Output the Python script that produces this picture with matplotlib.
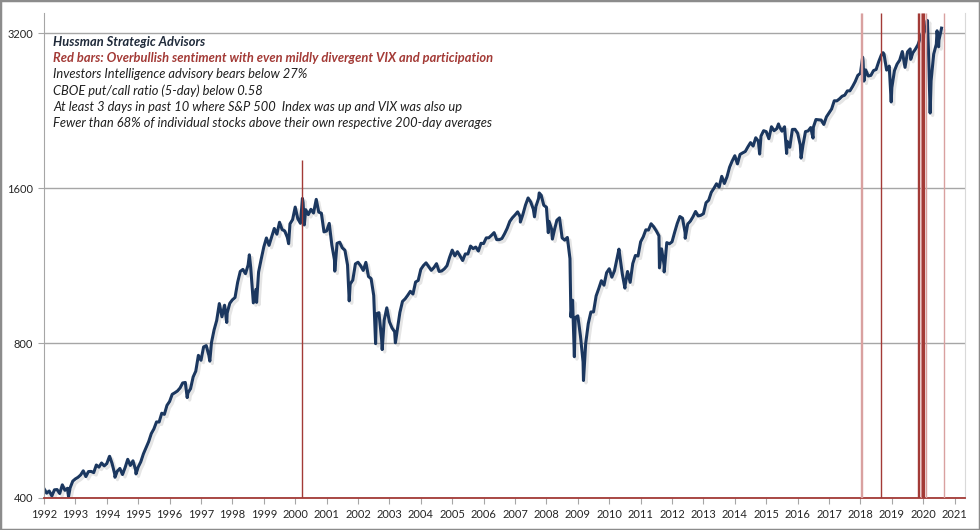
"""S&P 500 (log scale) with red bars marking overbullish sentiment syndromes."""

import matplotlib.pyplot as plt
import matplotlib.patheffects as pe
from matplotlib.patches import Rectangle
from matplotlib.ticker import NullLocator, FixedLocator, FixedFormatter
import numpy as np

# Month-end S&P 500 closes, Jan 1992 .. Jul 2020
closes = [
    408.8, 412.7, 403.7, 414.9, 415.4, 408.1, 424.2, 414.0, 417.8, 418.7, 431.4, 435.7,  # 1992
    438.8, 443.4, 451.7, 440.2, 450.2, 450.5, 448.1, 463.6, 459.2, 467.8, 461.8, 466.5,  # 1993
    481.6, 467.1, 445.8, 450.9, 456.5, 444.3, 458.3, 475.5, 462.7, 472.4, 453.7, 459.3,  # 1994
    470.4, 487.4, 500.7, 514.7, 533.4, 544.8, 562.1, 561.9, 584.4, 581.5, 605.4, 615.9,  # 1995
    636.0, 640.4, 645.5, 654.2, 669.1, 670.6, 639.9, 652.0, 687.3, 705.3, 757.0, 740.7,  # 1996
    786.2, 790.8, 757.1, 801.3, 848.3, 885.1, 954.3, 899.5, 947.3, 914.6, 955.4, 970.4,  # 1997
    980.3, 1049.3, 1101.8, 1111.8, 1090.8, 1133.8, 1120.7, 957.3, 1017.0, 1098.7, 1163.6, 1229.2,  # 1998
    1279.6, 1238.3, 1286.4, 1335.2, 1301.8, 1372.7, 1328.7, 1320.4, 1282.7, 1362.9, 1388.9, 1469.3,  # 1999
    1394.5, 1366.4, 1498.6, 1452.4, 1420.6, 1454.6, 1430.8, 1517.7, 1436.5, 1429.4, 1315.0, 1320.3,  # 2000
    1366.0, 1239.9, 1160.3, 1249.5, 1255.8, 1224.4, 1211.2, 1133.6, 1040.9, 1059.8, 1139.5, 1148.1,  # 2001
    1130.2, 1106.7, 1147.4, 1076.9, 1067.1, 989.8, 911.6, 916.1, 815.3, 885.8, 936.3, 879.8,  # 2002
    855.7, 841.2, 848.2, 916.9, 963.6, 974.5, 990.3, 1008.0, 996.0, 1050.7, 1058.2, 1111.9,  # 2003
    1131.1, 1144.9, 1126.2, 1107.3, 1120.7, 1140.8, 1101.7, 1104.2, 1114.6, 1130.2, 1173.8, 1211.9,  # 2004
    1181.3, 1203.6, 1180.6, 1156.9, 1191.5, 1191.3, 1234.2, 1220.3, 1228.8, 1207.0, 1249.5, 1248.3,  # 2005
    1280.1, 1280.7, 1294.8, 1310.6, 1270.1, 1270.2, 1276.7, 1303.8, 1335.9, 1377.9, 1400.6, 1418.3,  # 2006
    1438.2, 1406.8, 1420.9, 1482.4, 1530.6, 1503.4, 1455.3, 1474.0, 1526.8, 1549.4, 1481.1, 1468.4,  # 2007
    1378.6, 1330.6, 1322.7, 1385.6, 1400.4, 1280.0, 1267.4, 1282.8, 1166.4, 968.8, 896.2, 903.3,  # 2008
    825.9, 735.1, 797.9, 872.8, 919.1, 919.3, 987.5, 1020.6, 1057.1, 1036.2, 1095.6, 1115.1,  # 2009
    1073.9, 1104.5, 1169.4, 1186.7, 1089.4, 1030.7, 1101.6, 1049.3, 1141.2, 1183.3, 1180.6, 1257.6,  # 2010
    1286.1, 1327.2, 1325.8, 1363.6, 1345.2, 1320.6, 1292.3, 1218.9, 1131.4, 1253.3, 1247.0, 1257.6,  # 2011
    1312.4, 1365.7, 1408.5, 1397.9, 1310.3, 1362.2, 1379.3, 1406.6, 1440.7, 1412.2, 1416.2, 1426.2,  # 2012
    1498.1, 1514.7, 1569.2, 1597.6, 1630.7, 1606.3, 1685.7, 1633.0, 1681.6, 1756.5, 1805.8, 1848.4,  # 2013
    1782.6, 1859.5, 1872.3, 1884.0, 1923.6, 1960.2, 1930.7, 2003.4, 1972.3, 2018.1, 2067.6, 2058.9,  # 2014
    1995.0, 2104.5, 2067.9, 2085.5, 2107.4, 2063.1, 2103.8, 1972.2, 1920.0, 2079.4, 2080.4, 2043.9,  # 2015
    1940.2, 1932.2, 2059.7, 2065.3, 2097.0, 2098.9, 2173.6, 2171.0, 2168.3, 2126.2, 2199.0, 2238.8,  # 2016
    2278.9, 2363.6, 2362.7, 2384.2, 2411.8, 2423.4, 2470.3, 2471.7, 2519.4, 2575.3, 2647.6, 2673.6,  # 2017
    2823.8, 2713.8, 2640.9, 2648.1, 2705.3, 2718.4, 2816.3, 2901.5, 2914.0, 2711.7, 2760.2, 2506.9,  # 2018
    2704.1, 2784.5, 2834.4, 2945.8, 2752.1, 2941.8, 2980.4, 2926.5, 2976.7, 3037.6, 3141.0, 3230.8,  # 2019
    3225.5, 2954.2, 2584.6, 2912.4, 3044.3, 3100.3, 3271.1,  # 2020
]
first_year = 1992
start_value = 417.1  # last close of 1991

# Intra-month turning points (decimal year, level)
swing_x = [1992.78, 1994.09, 1994.26, 1994.93, 1996.56, 1997.28, 1997.82, 1998.54,
           1998.77, 1999.79, 2000.23, 2000.29, 2000.67, 2001.26, 2001.72, 2002.56,
           2002.77, 2003.19, 2007.17, 2007.62, 2007.77, 2008.06, 2008.19, 2008.78,
           2008.89, 2009.18, 2010.31, 2010.50, 2011.60, 2011.75, 2012.42, 2014.79,
           2015.39, 2015.65, 2016.11, 2016.49, 2018.07, 2018.11, 2018.72, 2018.98,
           2019.42, 2019.60, 2020.13, 2020.22, 2020.44, 2020.49]
swing_y = [402.7, 482.0, 438.9, 445.5, 626.7, 737.7, 877.0, 1186.8,
           959.4, 1247.4, 1527.5, 1356.6, 1520.8, 1103.3, 965.8, 797.7,
           776.8, 800.7, 1374.1, 1406.7, 1565.2, 1310.5, 1273.4, 899.2,
           752.4, 676.5, 1217.3, 1022.6, 1119.5, 1099.2, 1278.0, 1862.5,
           2130.8, 1867.6, 1829.1, 2000.5, 2872.9, 2581.0, 2930.8, 2351.1,
           2744.5, 2844.7, 3386.2, 2237.4, 3232.4, 3009.1]

# Red bars: date, top of bar, pale shade or not
bar_x = [2000.21, 2018.02, 2018.04, 2018.67, 2019.83, 2019.87, 2019.92, 2019.96,
         2020.00, 2020.04, 2020.08, 2020.65]
bar_top = [1810, 3500, 3500, 3500, 3500, 3500, 3500, 3500, 3500, 3500, 3500, 3500]
bar_pale = [False, True, True, False, False, False, True, False, False, False, True, True]

y_ticks = [400, 800, 1600, 3200]
x_years = list(range(1992, 2022))

notes = [
    'Investors Intelligence advisory bears below 27%',
    'CBOE put/call ratio (5-day) below 0.58',
    'At least 3 days in past 10 where S&P 500  Index was up and VIX was also up',
    'Fewer than 68% of individual stocks above their own respective 200-day averages',
]

# Build the price series
month_x = first_year + np.arange(1, len(closes) + 1) / 12
xs = np.concatenate([[first_year], month_x, swing_x])
ys = np.concatenate([[start_value], closes, swing_y])
order = np.argsort(xs)
xs, ys = xs[order], ys[order]

navy = '#1B375F'
dark_red = '#A33A36'
pale_red = '#D9A1A0'
grey = '#A6A6A6'

fig, ax = plt.subplots(figsize=(9.8, 5.3), dpi=100)
fig.subplots_adjust(left=44 / 980, right=965 / 980, bottom=1 - 498 / 530, top=1 - 13 / 530)

ax.plot(xs, ys, color=navy, lw=2.2, zorder=2, solid_joinstyle='round',
        path_effects=[pe.SimpleLineShadow(offset=(1.8, -1.8), shadow_color='#8a8a8a', alpha=0.22),
                      pe.Normal()])

for x, top, pale in zip(bar_x, bar_top, bar_pale):
    ax.vlines(x, 400, top, color=pale_red if pale else dark_red, lw=1.0, zorder=3)

ax.set_yscale('log', base=2)
ax.set_ylim(400, 3500)
ax.set_xlim(1992, 2021.33)
ax.yaxis.set_major_locator(FixedLocator(y_ticks))
ax.yaxis.set_major_formatter(FixedFormatter([str(v) for v in y_ticks]))
ax.yaxis.set_minor_locator(NullLocator())
ax.set_xticks(x_years)
ax.set_xticklabels([str(y) for y in x_years])
ax.grid(axis='y', color=grey, lw=1)

ax.tick_params(axis='both', length=4, color=grey, labelsize=8, labelcolor='#262626', pad=4)
for lab in ax.get_xticklabels() + ax.get_yticklabels():
    lab.set_family('Lato')

ax.spines['top'].set_visible(False)
ax.spines['right'].set_color('#D9D9D9')
ax.spines['left'].set_color(grey)
ax.spines['bottom'].set_color(dark_red)
ax.spines['bottom'].set_linewidth(1.3)

# Annotation block
tx, ty, step = 53 / 980, 1 - 42 / 530, 16.2 / 530
fig.text(tx, ty, 'Hussman Strategic Advisors', family='Lato', style='italic',
         weight='bold', size=9.3, color='#1F2A3A', va='center')
fig.text(tx, ty - step, 'Red bars: Overbullish sentiment with even mildly divergent VIX and participation',
         family='Lato', style='italic', weight='bold', size=9.3, color='#A33A36', va='center')
for i, line in enumerate(notes):
    fig.text(tx, ty - (i + 2) * step, line, family='Lato', style='italic',
             size=9.3, color='#1F1F1F', va='center')

fig.patches.append(Rectangle((0, 0), 1, 1, transform=fig.transFigure, fill=False,
                             edgecolor='#8C8C8C', lw=2.5))

plt.savefig('out.png', dpi=100)
